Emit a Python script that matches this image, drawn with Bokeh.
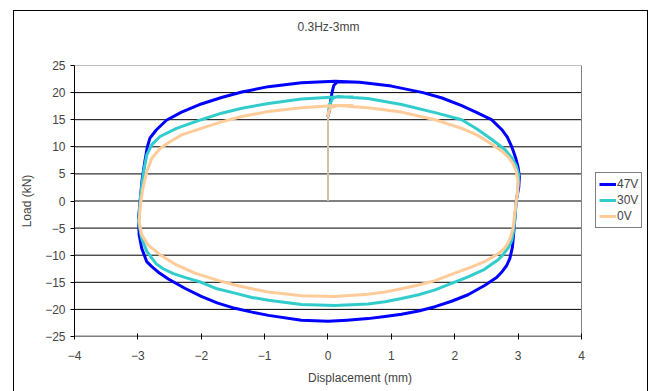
from bokeh.plotting import figure
from bokeh.models import FixedTicker, Legend, LegendItem, Title
from bokeh.embed import file_html
from bokeh.resources import INLINE

# ---- data ----
series_names = ["47V", "30V", "0V"]
title_text = "0.3Hz-3mm"
x_ticks = [-4, -3, -2, -1, 0, 1, 2, 3, 4]
y_ticks = [-25, -20, -15, -10, -5, 0, 5, 10, 15, 20, 25]

# initial loading (vertical rise from the origin)
init_disp_47v = [0.0, 0.0]
init_load_47v = [0.0, 15.5]
init_disp_30v = [0.0, 0.0]
init_load_30v = [0.0, 15.5]
init_disp_0v = [0.0, 0.0]
init_load_0v = [0.0, 15.5]

# hysteresis loops
disp_47v = [0.0, 0.03, 0.06, 0.09, 0.15, 0.5, 1.0, 1.5, 1.8, 2.11, 2.35, 2.58, 2.74, 2.83, 2.90, 2.96, 3.0, 3.02,
            3.01, 2.97, 2.95, 2.93, 2.91, 2.87, 2.82, 2.75, 2.66, 2.47, 2.21, 1.95, 1.69, 1.43, 1.16, 0.9, 0.63,
            0.3, 0.0, -0.42, -0.94, -1.2, -1.47, -1.75, -2.0, -2.26, -2.52, -2.66, -2.78, -2.86, -2.94, -2.98,
            -2.99, -2.96, -2.93, -2.89, -2.85, -2.81, -2.71, -2.55, -2.31, -2.0, -1.68, -1.36, -0.94, -0.42,
            0.11, 0.5]
load_47v = [15.5, 17.5, 19.8, 21.3, 22.0, 21.9, 21.2, 20.0, 19.0, 17.6, 16.3, 15.0, 13.2, 11.8, 10.0, 8.0, 6.2, 4.5,
            2.5, 0.0, -3.0, -6.0, -8.5, -10.6, -11.9, -13.0, -14.1, -15.6, -17.3, -18.5, -19.5, -20.3, -20.9,
            -21.3, -21.7, -22.0, -22.2, -22.0, -21.1, -20.5, -19.8, -18.8, -17.6, -16.1, -14.4, -13.3, -12.1,
            -11.2, -8.7, -6.2, -3.2, 0.6, 4.2, 7.3, 10.0, 11.6, 13.1, 14.9, 16.4, 17.9, 19.1, 20.1, 21.1, 21.8,
            22.1, 21.9]

disp_30v = [0.0, 0.02, 0.08, 0.16, 0.63, 1.16, 1.69, 2.11, 2.35, 2.58, 2.79, 2.90, 2.97, 3.01, 2.99, 2.97, 2.95,
            2.93, 2.90, 2.84, 2.76, 2.69, 2.47, 2.21, 1.95, 1.69, 1.43, 1.16, 0.9, 0.63, 0.11, -0.42, -0.94, -1.2,
            -1.47, -1.75, -2.0, -2.26, -2.44, -2.60, -2.71, -2.86, -2.94, -2.99, -2.96, -2.91, -2.86, -2.78, -2.65,
            -2.39, -2.0, -1.68, -1.36, -0.94, -0.42, 0.11, 0.4]
load_30v = [15.5, 17.7, 19.0, 19.3, 18.9, 17.8, 16.3, 15.0, 13.3, 11.4, 9.5, 8.0, 6.5, 4.8, 1.5, 0.0, -3.0,
            -5.5, -7.3, -8.7, -9.9, -10.8, -12.6, -14.0, -15.2, -16.4, -17.3, -18.0, -18.6, -19.0, -19.3, -19.1,
            -18.3, -17.8, -17.0, -16.2, -15.0, -14.1, -13.4, -12.5, -11.6, -9.3, -6.9, -3.8, 0.6, 5.4, 8.5, 10.4,
            11.9, 13.4, 15.0, 16.2, 17.1, 18.0, 18.8, 19.2, 19.2]

disp_0v = [0.0, 0.01, 0.05, 0.16, 0.63, 1.16, 1.69, 2.11, 2.35, 2.58, 2.74, 2.84, 2.92, 2.97, 3.0, 2.99, 2.97,
           2.94, 2.92, 2.88, 2.84, 2.78, 2.69, 2.47, 2.26, 2.0, 1.69, 1.43, 1.16, 0.9, 0.63, 0.11, -0.42, -0.94,
           -1.2, -1.47, -1.75, -2.10, -2.39, -2.65, -2.84, -2.94, -2.98, -2.96, -2.92, -2.86, -2.78, -2.65, -2.5,
           -2.31, -2.0, -1.68, -1.36, -0.94, -0.42, 0.11, 0.4]
load_0v = [15.5, 16.5, 17.3, 17.6, 17.2, 16.4, 15.0, 13.4, 12.2, 10.5, 9.2, 8.2, 6.9, 5.5, 3.5, 1.5, 0.0,
           -3.0, -5.0, -6.7, -7.8, -8.8, -9.7, -11.2, -12.2, -13.3, -14.7, -15.5, -16.2, -16.8, -17.2, -17.6,
           -17.5, -16.8, -16.2, -15.5, -14.6, -13.3, -11.8, -9.9, -8.1, -6.2, -3.8, -0.7, 2.4, 5.4, 7.9, 9.7, 10.9,
           12.2, 13.4, 14.6, 15.6, 16.5, 17.2, 17.6, 17.6]

FONT = "Liberation Sans"
BLUE, CYAN, ORANGE = "#0000FF", "#33CCCC", "#FFCC99"
X0, X1 = x_ticks[0], x_ticks[-1]
Y0, Y1 = y_ticks[0], y_ticks[-1]

# the frame is widened to the right so that the legend can sit beside the plot area
p = figure(width=635, height=381, x_range=(X0, 5.01), y_range=(Y0, Y1),
           output_backend="svg", toolbar_location=None,
           min_border_left=60, min_border_right=4, min_border_top=54, min_border_bottom=56,
           title=title_text)
p.margin = (10, 0, 0, 13)
p.styles = {"border-left": "1px solid black", "border-top": "1px solid black",
            "border-right": "1px solid black"}

# main title (outermost), with a blank spacer title between it and the plot area
p.title.align = "left"
p.title.offset = 223
p.title.vertical_align = "bottom"
p.title.standoff = 0
p.title.text_font = FONT
p.title.text_font_size = "12px"
p.title.text_font_style = "normal"
spacer = Title(text=" ", standoff=16, text_font=FONT, text_font_size="12px")
p.add_layout(spacer, "above")

p.outline_line_color = None
p.background_fill_color = "white"
p.border_fill_color = "white"
p.grid.visible = False

p.xaxis.ticker = FixedTicker(ticks=x_ticks)
p.yaxis.ticker = FixedTicker(ticks=y_ticks)

for ax in (p.xaxis, p.yaxis):
    ax.major_tick_line_color = "black"
    ax.minor_tick_line_color = None
    ax.major_label_text_font = FONT
    ax.major_label_text_font_size = "12px"
    ax.axis_label_text_font = FONT
    ax.axis_label_text_font_size = "12px"
    ax.axis_label_text_font_style = "normal"

p.xaxis.axis_line_color = None
p.xaxis.major_tick_in = 3
p.xaxis.major_tick_out = 3
p.xaxis.major_label_standoff = 11
p.xaxis.axis_label = "Displacement (mm)"
p.xaxis.axis_label_standoff = 8

p.yaxis.axis_line_color = "black"
p.yaxis.major_tick_in = 0
p.yaxis.major_tick_out = 4
p.yaxis.major_label_standoff = 5
p.yaxis.axis_label = "Load (kN)"
p.yaxis.axis_label_standoff = 8

# horizontal gridlines over the plot area only
grid_y = y_ticks[1:-1]
p.segment(x0=[X0] * len(grid_y), y0=grid_y, x1=[X1] * len(grid_y), y1=grid_y,
          line_color="black", line_width=1)
# plot area border: top and right in grey, bottom axis line in black
p.segment(x0=[X0, X1], y0=[Y1, Y0], x1=[X1, X1], y1=[Y1, Y1], line_color="#808080", line_width=1)
p.segment(x0=[X0], y0=[Y0], x1=[X1], y1=[Y0], line_color="black", line_width=1.5)

r1 = p.line(disp_47v, load_47v, line_color=BLUE, line_width=3, line_join="round")
r2 = p.line(disp_30v, load_30v, line_color=CYAN, line_width=3, line_join="round")
r3 = p.line(disp_0v, load_0v, line_color=ORANGE, line_width=3, line_join="round")
p.line(init_disp_47v, init_load_47v, line_color=BLUE, line_width=1.5)
p.line(init_disp_30v, init_load_30v, line_color=CYAN, line_width=1.5)
p.line(init_disp_0v, init_load_0v, line_color=ORANGE, line_width=1.5)

legend = Legend(items=[LegendItem(label=series_names[0], renderers=[r1]),
                       LegendItem(label=series_names[1], renderers=[r2]),
                       LegendItem(label=series_names[2], renderers=[r3])],
                location=(521, 108))
legend.border_line_color = "black"
legend.border_line_width = 1
legend.background_fill_color = "white"
legend.padding = 3
legend.spacing = 0
legend.margin = 0
legend.label_height = 16
legend.glyph_height = 16
legend.glyph_width = 17
legend.label_standoff = 1
legend.label_text_font = FONT
legend.label_text_font_size = "12px"
p.add_layout(legend, "center")

open("out.html", "w").write(file_html(p, INLINE))
